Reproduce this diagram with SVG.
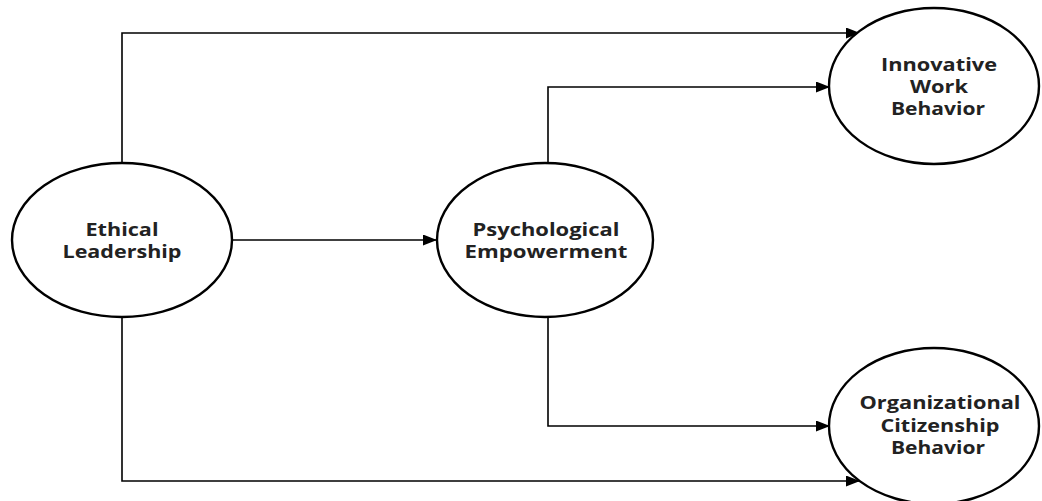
<svg xmlns="http://www.w3.org/2000/svg" width="1042" height="501" viewBox="0 0 1042 501">
<defs>
<marker id="arr" markerWidth="14" markerHeight="11" refX="14" refY="5.5" orient="auto" markerUnits="userSpaceOnUse">
<path d="M0,0 L14,5.5 L0,11 Z" fill="#000"/>
</marker>
<style>
.node ellipse{fill:#fff;stroke:#000;stroke-width:2.4}
.node text{font-family:"Open Sans","Noto Sans",sans-serif;font-weight:bold;font-size:17px;fill:#222;text-anchor:middle}
#connectors path{fill:none;stroke:#000;stroke-width:1.6;marker-end:url(#arr)}
</style>
</defs>
<rect width="1042" height="501" fill="#fff"/>
<g id="connectors">
<path d="M122,163 V33 H860"/>
<path d="M548,163 V87 H830"/>
<path d="M232,240 H437"/>
<path d="M548,317 V426 H830"/>
<path d="M122,317 V481 H860"/>
</g>
<g id="ethical-leadership" class="node">
<ellipse cx="122" cy="240" rx="110" ry="77"/>
<text x="122" y="236" textLength="73" lengthAdjust="spacingAndGlyphs">Ethical</text>
<text x="122" y="258" textLength="119" lengthAdjust="spacingAndGlyphs">Leadership</text>
</g>
<g id="psychological-empowerment" class="node">
<ellipse cx="545" cy="240" rx="108" ry="77"/>
<text x="546" y="236" textLength="147" lengthAdjust="spacingAndGlyphs">Psychological</text>
<text x="546" y="258" textLength="163" lengthAdjust="spacingAndGlyphs">Empowerment</text>
</g>
<g id="innovative-work-behavior" class="node">
<ellipse cx="934" cy="86" rx="105" ry="78"/>
<text x="939" y="71" textLength="116" lengthAdjust="spacingAndGlyphs">Innovative</text>
<text x="939" y="93" textLength="58" lengthAdjust="spacingAndGlyphs">Work</text>
<text x="938" y="115" textLength="94" lengthAdjust="spacingAndGlyphs">Behavior</text>
</g>
<g id="ocb" class="node">
<ellipse cx="934" cy="426" rx="105" ry="78"/>
<text x="940" y="409" textLength="161" lengthAdjust="spacingAndGlyphs">Organizational</text>
<text x="940" y="432" textLength="119" lengthAdjust="spacingAndGlyphs">Citizenship</text>
<text x="938" y="454" textLength="94" lengthAdjust="spacingAndGlyphs">Behavior</text>
</g>
</svg>
